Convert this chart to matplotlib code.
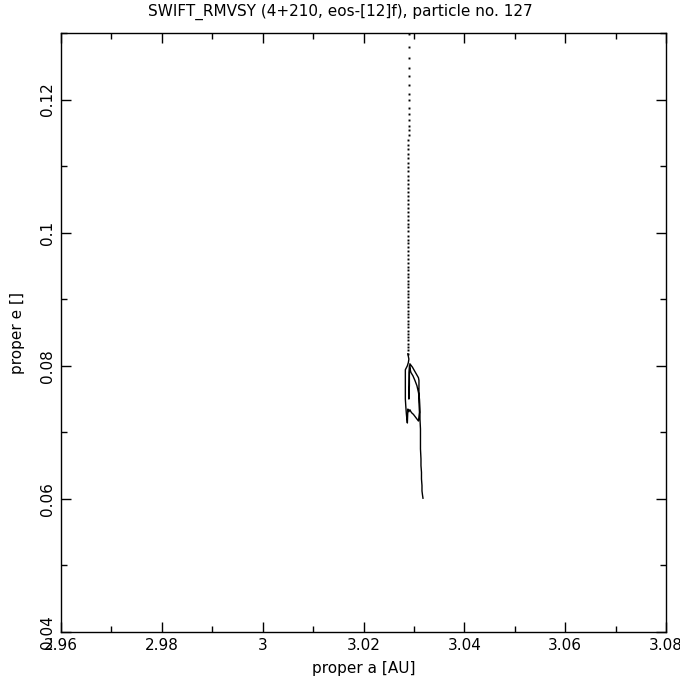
import matplotlib
matplotlib.use("Agg")
import matplotlib.pyplot as plt
from matplotlib.ticker import MultipleLocator, FuncFormatter

title = "SWIFT_RMVSY (4+210, eos-[12]f), particle no. 127"
xlabel = "proper a [AU]"
ylabel = "proper e []"
xlim = (2.96, 3.08)
ylim = (0.04, 0.13)

# early sparse trail (individual output points)
trail_a = [3.0290, 3.0290, 3.0290, 3.0290, 3.0290, 3.0290, 3.0290, 3.0290,
           3.0290, 3.0290, 3.0290, 3.0290, 3.0290, 3.0290, 3.0289, 3.0289,
           3.0289, 3.0289, 3.0289, 3.0289, 3.0289, 3.0289, 3.0289, 3.0289,
           3.0289, 3.0289, 3.0289, 3.0289, 3.0289, 3.0289, 3.0289, 3.0289,
           3.0289, 3.0289, 3.0289, 3.0289, 3.0289, 3.0289, 3.0289, 3.0289,
           3.0289, 3.0288, 3.0288, 3.0288, 3.0288, 3.0288, 3.0288, 3.0288,
           3.0288, 3.0288, 3.0288, 3.0288, 3.0288, 3.0288, 3.0288, 3.0288,
           3.0288, 3.0288, 3.0288, 3.0288, 3.0288, 3.0288, 3.0288, 3.0288,
           3.0288, 3.0288, 3.0288, 3.0288, 3.0288, 3.0288, 3.0288, 3.0288]
trail_e = [0.1298, 0.1279, 0.1262, 0.1248, 0.1235, 0.1222, 0.1209, 0.1199,
           0.1188, 0.1179, 0.1170, 0.1161, 0.1154, 0.1147, 0.1139, 0.1132,
           0.1125, 0.1118, 0.1112, 0.1105, 0.1098, 0.1092, 0.1085, 0.1079,
           0.1073, 0.1067, 0.1061, 0.1055, 0.1049, 0.1043, 0.1037, 0.1031,
           0.1025, 0.1019, 0.1013, 0.1008, 0.1002, 0.0995, 0.0989, 0.0985,
           0.0978, 0.0973, 0.0967, 0.0961, 0.0955, 0.0949, 0.0944, 0.0938,
           0.0933, 0.0928, 0.0923, 0.0918, 0.0913, 0.0908, 0.0903, 0.0898,
           0.0893, 0.0888, 0.0883, 0.0878, 0.0873, 0.0868, 0.0863, 0.0858,
           0.0853, 0.0848, 0.0843, 0.0838, 0.0833, 0.0828, 0.0823, 0.0818]

# later dense part (points close enough to read as a curve)
path_a = [3.0288, 3.0290, 3.0289, 3.0287, 3.0283, 3.0283, 3.0283, 3.0283,
          3.0284, 3.0285, 3.0286, 3.0287, 3.0288, 3.0290, 3.0292, 3.0294,
          3.0296, 3.0299, 3.0302, 3.0306, 3.0309, 3.0311, 3.0310, 3.0310,
          3.0310, 3.0310, 3.0309, 3.0303, 3.0297, 3.0292, 3.0291, 3.0291,
          3.0290, 3.0291, 3.0294, 3.0298, 3.0302, 3.0306, 3.0309, 3.0311,
          3.0312, 3.0312, 3.0313, 3.0313, 3.0313, 3.0314, 3.0314, 3.0315,
          3.0315, 3.0316, 3.0316, 3.0317, 3.0318]
path_e = [0.0818, 0.0810, 0.0805, 0.0800, 0.0794, 0.0780, 0.0765, 0.0750,
          0.0738, 0.0728, 0.0720, 0.0714, 0.0735, 0.0731, 0.0734, 0.0731,
          0.0729, 0.0727, 0.0724, 0.0720, 0.0717, 0.0730, 0.0745, 0.0760,
          0.0770, 0.0778, 0.0782, 0.0790, 0.0798, 0.0803, 0.0790, 0.0770,
          0.0750, 0.0800, 0.0790, 0.0785, 0.0778, 0.0770, 0.0760, 0.0750,
          0.0735, 0.0720, 0.0705, 0.0690, 0.0675, 0.0660, 0.0650, 0.0640,
          0.0630, 0.0620, 0.0612, 0.0606, 0.0601]

fig = plt.figure(figsize=(6.8, 6.8), dpi=100)
ax = fig.add_axes([61/680, 48/680, 605/680, 599/680])
ax.plot(trail_a, trail_e, linestyle="none", marker="s", markersize=1.4,
        color="black", markeredgewidth=0)
ax.plot(path_a, path_e, color="black", linewidth=1.0)

ax.set_xlim(*xlim)
ax.set_ylim(*ylim)
ax.xaxis.set_major_locator(MultipleLocator(0.02))
ax.xaxis.set_minor_locator(MultipleLocator(0.01))
ax.yaxis.set_major_locator(MultipleLocator(0.02))
ax.yaxis.set_minor_locator(MultipleLocator(0.01))
fmt = FuncFormatter(lambda v, p: ("%.2f" % v).rstrip("0").rstrip("."))
ax.xaxis.set_major_formatter(fmt)
ax.yaxis.set_major_formatter(fmt)
ax.tick_params(which="both", direction="in", top=True, right=True, width=1,
               labelsize=11, color="black")
ax.tick_params(which="major", length=7, pad=4)
ax.tick_params(which="minor", length=4)
for lab in ax.get_yticklabels():
    lab.set_rotation(90)
    lab.set_va("center")
for s in ax.spines.values():
    s.set_linewidth(1)

ax.set_xlabel(xlabel, fontsize=11, labelpad=6)
ax.set_ylabel(ylabel, fontsize=11, labelpad=11)
fig.text(340/680, 1 - 12/680, title, ha="center", va="center", fontsize=11)

fig.savefig("out.png", dpi=100)
